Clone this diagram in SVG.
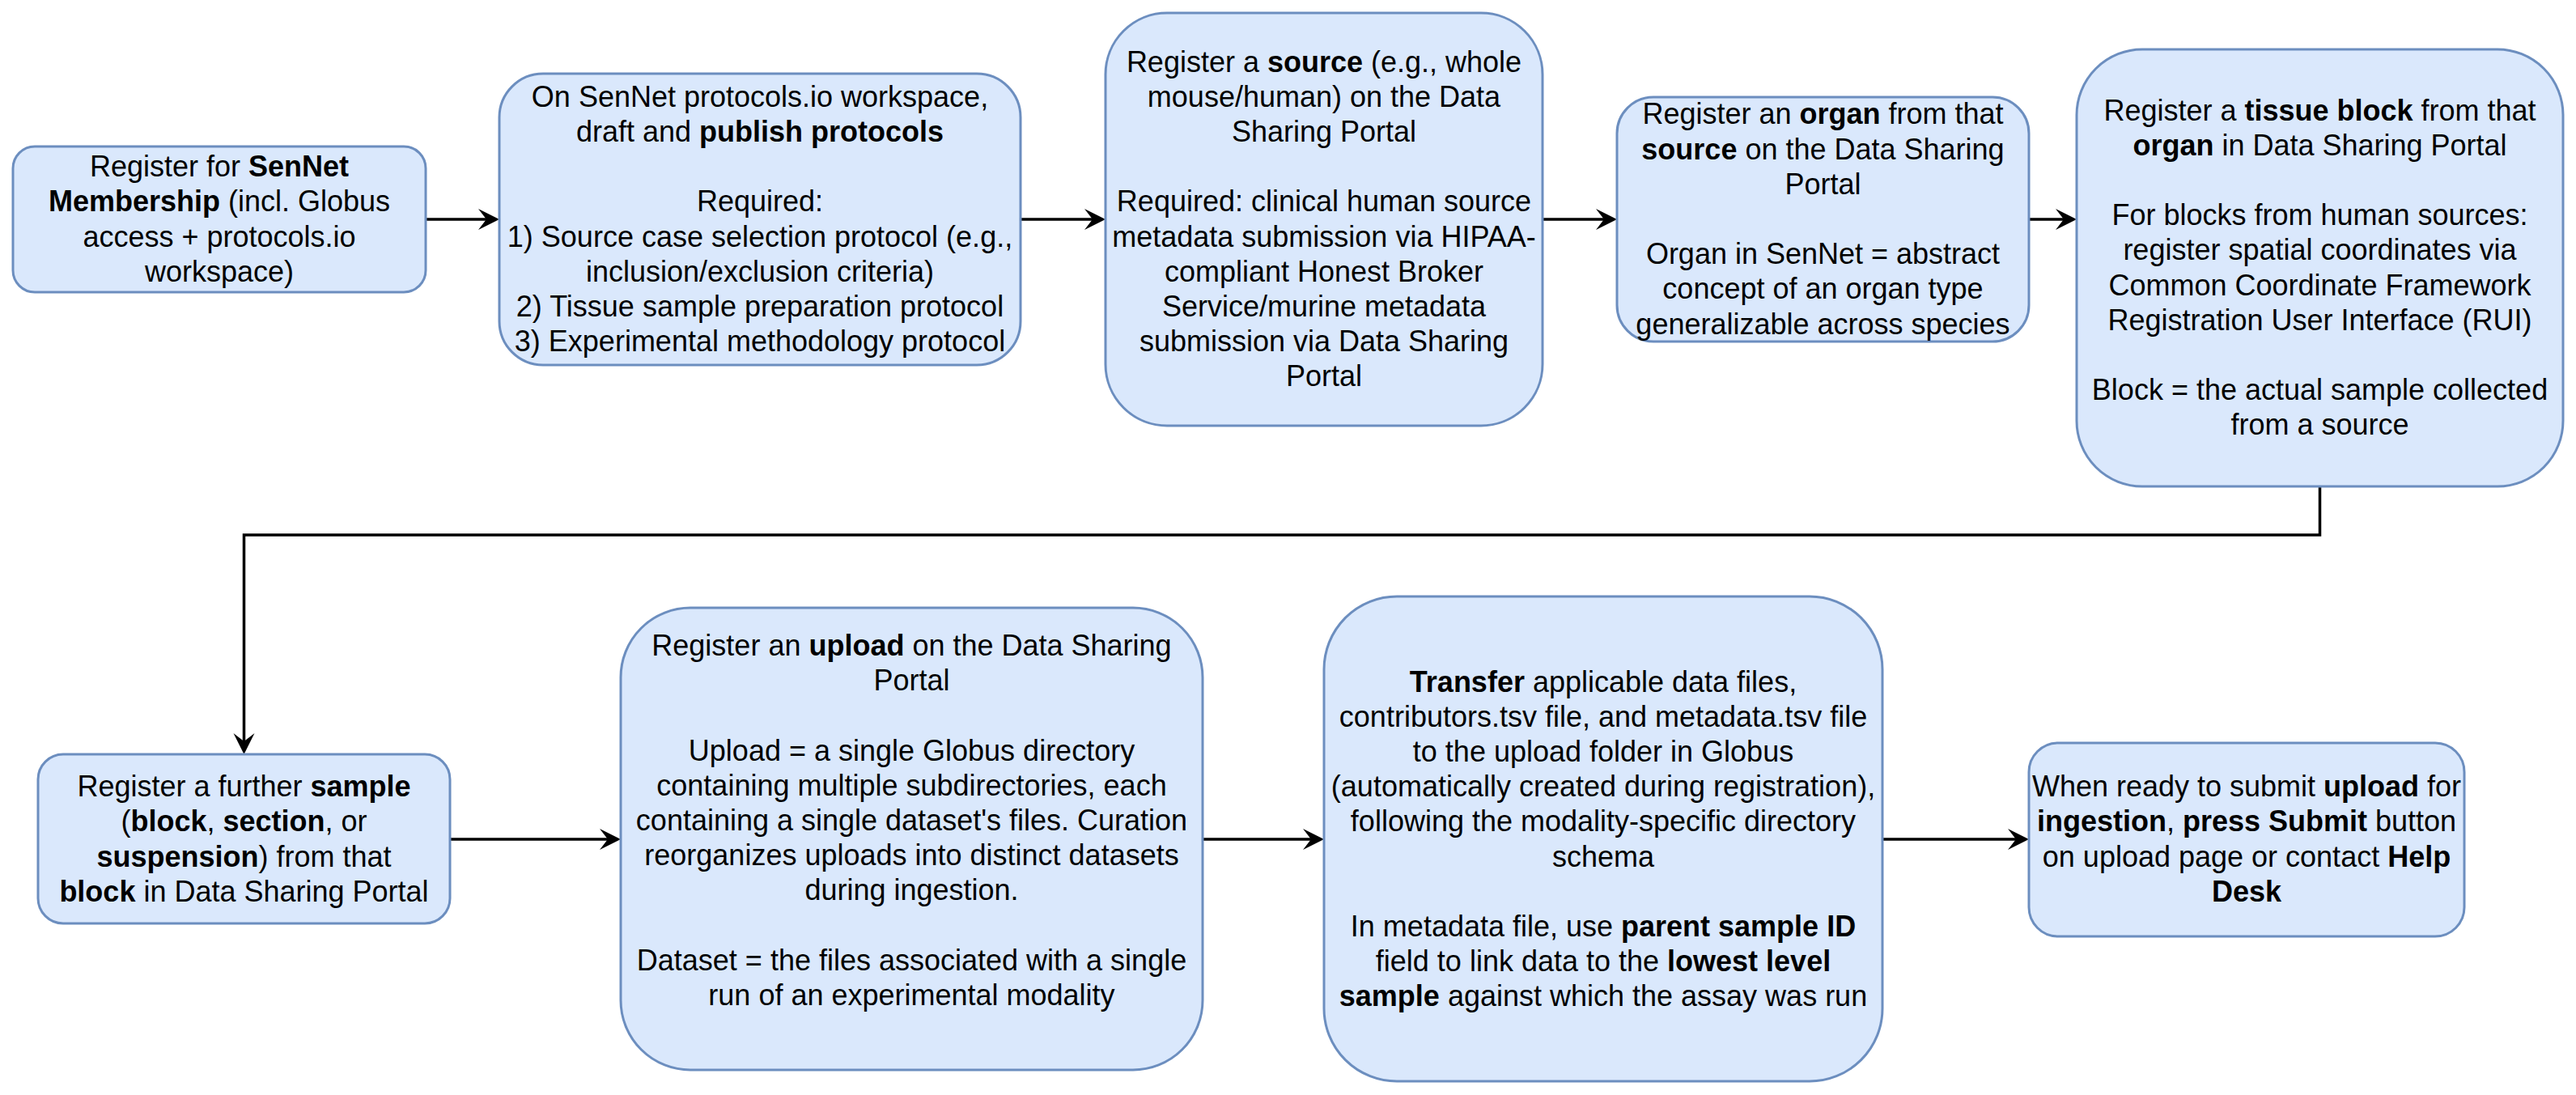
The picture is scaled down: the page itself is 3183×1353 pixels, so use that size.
<svg xmlns="http://www.w3.org/2000/svg" width="3183" height="1353" viewBox="0 0 3183 1353">
<style>
.box{fill:#dae8fc;stroke:#6c8ebf;stroke-width:3}
.t{font-family:"Liberation Sans",Arial,Helvetica,sans-serif;font-size:36px;fill:#000;text-anchor:middle}
.b{font-weight:bold}
.edge{fill:none;stroke:#000;stroke-width:3.5;marker-end:url(#arr)}
</style>
<defs>
<marker id="arr" markerUnits="userSpaceOnUse" markerWidth="40" markerHeight="40" refX="0" refY="0" orient="auto" overflow="visible">
<path d="M16,0 L-10,-13 L0,0 L-10,13 Z" fill="#000"/>
</marker>
</defs>
<rect width="3183" height="1353" fill="#fff"/>
<g id="connectors">
<path class="edge" d="M526,271 H601"/>
<path class="edge" d="M1261,271 H1350"/>
<path class="edge" d="M1906,271 H1982"/>
<path class="edge" d="M2507,271 H2550"/>
<path class="edge" d="M2866.5,601 V661 H301.5 V916"/>
<path class="edge" d="M556,1037 H751"/>
<path class="edge" d="M1486,1037 H1620"/>
<path class="edge" d="M2326,1037 H2491"/>
</g>
<g id="n1">
<rect class="box" x="16" y="181" width="510" height="180" rx="27"/>
<text class="t" x="271" y="218">Register for <tspan class="b">SenNet</tspan></text>
<text class="t" x="271" y="261"><tspan class="b">Membership</tspan> (incl. Globus</text>
<text class="t" x="271" y="305">access + protocols.io</text>
<text class="t" x="271" y="348">workspace)</text>
</g>
<g id="n2">
<rect class="box" x="617" y="91" width="644" height="360" rx="54"/>
<text class="t" x="939" y="132">On SenNet protocols.io workspace,</text>
<text class="t" x="939" y="175">draft and <tspan class="b">publish protocols</tspan></text>
<text class="t" x="939" y="261">Required:</text>
<text class="t" x="939" y="305">1) Source case selection protocol (e.g.,</text>
<text class="t" x="939" y="348">inclusion/exclusion criteria)</text>
<text class="t" x="939" y="391">2) Tissue sample preparation protocol</text>
<text class="t" x="939" y="434">3) Experimental methodology protocol</text>
</g>
<g id="n3">
<rect class="box" x="1366" y="16" width="540" height="510" rx="76"/>
<text class="t" x="1636" y="89">Register a <tspan class="b">source</tspan> (e.g., whole</text>
<text class="t" x="1636" y="132">mouse/human) on the Data</text>
<text class="t" x="1636" y="175">Sharing Portal</text>
<text class="t" x="1636" y="261">Required: clinical human source</text>
<text class="t" x="1636" y="305">metadata submission via HIPAA-</text>
<text class="t" x="1636" y="348">compliant Honest Broker</text>
<text class="t" x="1636" y="391">Service/murine metadata</text>
<text class="t" x="1636" y="434">submission via Data Sharing</text>
<text class="t" x="1636" y="477">Portal</text>
</g>
<g id="n4">
<rect class="box" x="1998" y="120" width="509" height="302" rx="45"/>
<text class="t" x="2252.5" y="153">Register an <tspan class="b">organ</tspan> from that</text>
<text class="t" x="2252.5" y="197"><tspan class="b">source</tspan> on the Data Sharing</text>
<text class="t" x="2252.5" y="240">Portal</text>
<text class="t" x="2252.5" y="326">Organ in SenNet = abstract</text>
<text class="t" x="2252.5" y="369">concept of an organ type</text>
<text class="t" x="2252.5" y="413">generalizable across species</text>
</g>
<g id="n5">
<rect class="box" x="2566" y="61" width="601" height="540" rx="81"/>
<text class="t" x="2866.5" y="149">Register a <tspan class="b">tissue block</tspan> from that</text>
<text class="t" x="2866.5" y="192"><tspan class="b">organ</tspan> in Data Sharing Portal</text>
<text class="t" x="2866.5" y="278">For blocks from human sources:</text>
<text class="t" x="2866.5" y="321">register spatial coordinates via</text>
<text class="t" x="2866.5" y="365">Common Coordinate Framework</text>
<text class="t" x="2866.5" y="408">Registration User Interface (RUI)</text>
<text class="t" x="2866.5" y="494">Block = the actual sample collected</text>
<text class="t" x="2866.5" y="537">from a source</text>
</g>
<g id="n6">
<rect class="box" x="47" y="932" width="509" height="209" rx="31"/>
<text class="t" x="301.5" y="984">Register a further <tspan class="b">sample</tspan></text>
<text class="t" x="301.5" y="1027">(<tspan class="b">block</tspan>, <tspan class="b">section</tspan>, or</text>
<text class="t" x="301.5" y="1071"><tspan class="b">suspension</tspan>) from that</text>
<text class="t" x="301.5" y="1114"><tspan class="b">block</tspan> in Data Sharing Portal</text>
</g>
<g id="n7">
<rect class="box" x="767" y="751" width="719" height="571" rx="86"/>
<text class="t" x="1126.5" y="810">Register an <tspan class="b">upload</tspan> on the Data Sharing</text>
<text class="t" x="1126.5" y="853">Portal</text>
<text class="t" x="1126.5" y="940">Upload = a single Globus directory</text>
<text class="t" x="1126.5" y="983">containing multiple subdirectories, each</text>
<text class="t" x="1126.5" y="1026">containing a single dataset's files. Curation</text>
<text class="t" x="1126.5" y="1069">reorganizes uploads into distinct datasets</text>
<text class="t" x="1126.5" y="1112">during ingestion.</text>
<text class="t" x="1126.5" y="1199">Dataset = the files associated with a single</text>
<text class="t" x="1126.5" y="1242">run of an experimental modality</text>
</g>
<g id="n8">
<rect class="box" x="1636" y="737" width="690" height="599" rx="90"/>
<text class="t" x="1981" y="855"><tspan class="b">Transfer</tspan> applicable data files,</text>
<text class="t" x="1981" y="898">contributors.tsv file, and metadata.tsv file</text>
<text class="t" x="1981" y="941">to the upload folder in Globus</text>
<text class="t" x="1981" y="984">(automatically created during registration),</text>
<text class="t" x="1981" y="1027">following the modality-specific directory</text>
<text class="t" x="1981" y="1071">schema</text>
<text class="t" x="1981" y="1157">In metadata file, use <tspan class="b">parent sample ID</tspan></text>
<text class="t" x="1981" y="1200">field to link data to the <tspan class="b">lowest level</tspan></text>
<text class="t" x="1981" y="1243"><tspan class="b">sample</tspan> against which the assay was run</text>
</g>
<g id="n9">
<rect class="box" x="2507" y="918" width="538" height="239" rx="36"/>
<text class="t" x="2776" y="984">When ready to submit <tspan class="b">upload</tspan> for</text>
<text class="t" x="2776" y="1027"><tspan class="b">ingestion</tspan>, <tspan class="b">press Submit</tspan> button</text>
<text class="t" x="2776" y="1071">on upload page or contact <tspan class="b">Help</tspan></text>
<text class="t" x="2776" y="1114"><tspan class="b">Desk</tspan></text>
</g>
</svg>
